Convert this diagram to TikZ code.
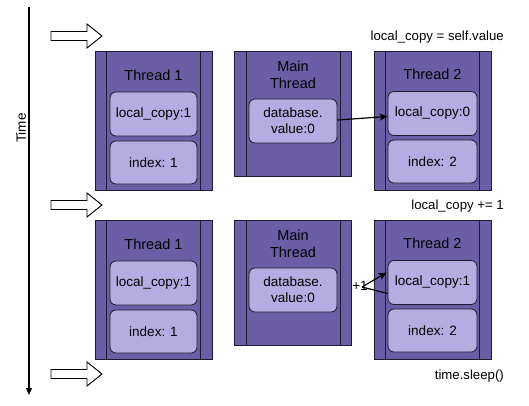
\documentclass[tikz,border=0pt]{standalone}
\usepackage{fontspec}
\setmainfont{Liberation Sans}
\usetikzlibrary{arrows.meta,calc}
\definecolor{threadfill}{HTML}{6B5EA6}
\definecolor{slotfill}{HTML}{B5ACE1}
\definecolor{edgeline}{HTML}{1E1B2E}
\begin{document}
\begin{tikzpicture}[x=1pt,y=-1pt,
  every node/.style={font=\fontsize{13.5}{16}\selectfont, text=black},
  thread/.style={draw=edgeline, line width=0.8pt, fill=threadfill,
    minimum width=117pt, inner sep=0pt, rectangle},
  slot/.style={draw=edgeline, line width=0.8pt, fill=slotfill, rounded corners=6pt,
    minimum width=87pt, minimum height=44pt, inner sep=0pt, align=center},
  title/.style={align=center, font=\fontsize{14.5}{17}\selectfont},
  note/.style={anchor=east, inner sep=0pt, font=\fontsize{13.2}{16}\selectfont},
  link/.style={line width=1.2pt, -{Stealth[length=8pt,width=7pt,inset=2pt]}},
  pics/blockarrow/.style={code={
    \draw[line width=0.9pt, fill=white]
      (0,-4.5) -- (36,-4.5) -- (36,-12) -- (51,0) -- (36,12) -- (36,4.5) -- (0,4.5) -- cycle;}}
]
\useasboundingbox (0,0) rectangle (529,405);

% time axis
\coordinate (tstart) at (29,7);
\coordinate (tend) at (29,395);
\draw[line width=1.2pt, -{Triangle[length=7pt,width=6pt]}] (tstart) -- (tend);
\node[rotate=90] (timelbl) at (21,128) {Time};

% step markers
\pic at (51,36) {blockarrow};
\pic at (51,205) {blockarrow};
\pic at (51,374) {blockarrow};

% step annotations
\node[note] (n1) at (504,37) {local\_copy = self.value};
\node[note] (n2) at (504,206) {local\_copy += 1};
\node[note] (n3) at (504,376) {time.sleep()};

% thread frames, drawn with two inner rules
\foreach \nm/\cx/\cy/\h in {ta1/153.5/120.5/139, ma1/293/113.5/125, tb1/432.5/120.5/139,
                            ta2/153.5/289.5/139, ma2/293/282.5/125, tb2/432.5/289.5/139}{
  \node[thread, minimum height=\h pt] (\nm) at (\cx,\cy) {};
  \draw[edgeline, line width=0.8pt] ([xshift=12pt]\nm.north west) -- ([xshift=12pt]\nm.south west);
  \draw[edgeline, line width=0.8pt] ([xshift=-12pt]\nm.north east) -- ([xshift=-12pt]\nm.south east);
}

% titles
\node[title] (ta1t) at (153.5,75) {Thread 1};
\node[title] (ma1t) at (293,74.5) {Main\\Thread};
\node[title] (tb1t) at (432.5,74) {Thread 2};
\node[title] (ta2t) at (153.5,244) {Thread 1};
\node[title] (ma2t) at (293,243.5) {Main\\Thread};
\node[title] (tb2t) at (432.5,243) {Thread 2};

% first step slots
\node[slot] (ta1l) at (153.5,114) {local\_copy:1};
\node[slot, minimum height=43pt] (ta1i) at (153.5,162.5) {index: 1};
\node[slot, minimum width=88pt] (db1) at (293,121) {database.\\value:0};
\node[slot, minimum width=89pt] (tb1l) at (432.5,113.5) {local\_copy:0};
\node[slot, minimum width=89pt, minimum height=43pt] (tb1i) at (432.5,161.5) {index: 2};

% second step slots
\node[slot] (ta2l) at (153.5,283) {local\_copy:1};
\node[slot, minimum height=43pt] (ta2i) at (153.5,331.5) {index: 1};
\node[slot, minimum width=88pt] (db2) at (293,290) {database.\\value:0};
\node[slot, minimum width=89pt] (tb2l) at (432.5,282.5) {local\_copy:1};
\node[slot, minimum width=89pt, minimum height=43pt] (tb2i) at (432.5,330.5) {index: 2};

% copy of the shared value
\draw[link] ([yshift=1pt]db1.east) -- ([yshift=-3pt]tb1l.west);

% increment loop
\coordinate (bend) at (362,287);
\node[inner sep=0pt] (inc) at (360,286) {+1};
\draw[line width=1.2pt] ([yshift=-11pt]tb2l.west) -- (bend);
\draw[link] (bend) -- ([yshift=10pt, xshift=-1pt]tb2l.west);
\end{tikzpicture}
\end{document}
